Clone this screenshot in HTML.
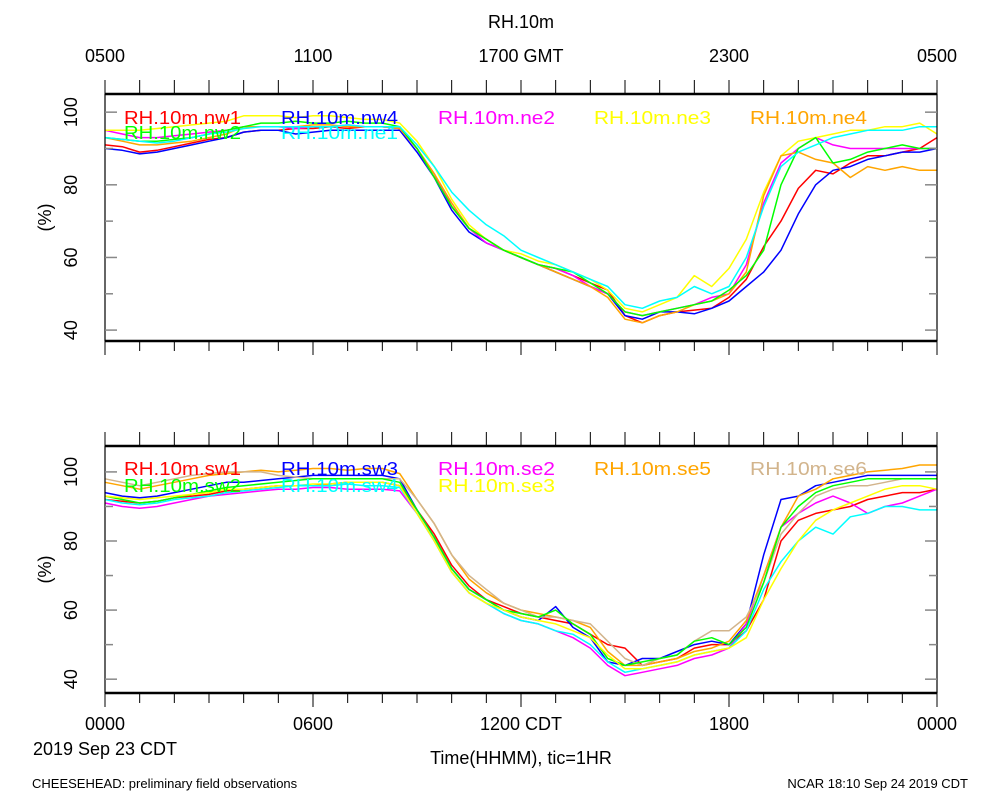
<!DOCTYPE html>
<html><head><meta charset="utf-8"><style>
html,body{margin:0;padding:0;background:#fff;}
svg text{font-family:"Liberation Sans",sans-serif;}
</style></head><body>
<svg id="chart" width="1000" height="800" viewBox="0 0 1000 800" xmlns="http://www.w3.org/2000/svg">
<rect x="0" y="0" width="1000" height="800" fill="#fff"/>
<g id="top"></g>
<g id="bot"></g>
<text x="521" y="28" font-size="18" text-anchor="middle">RH.10m</text>
<text x="521" y="764" font-size="18" text-anchor="middle">Time(HHMM), tic=1HR</text>
<text x="105" y="755" font-size="18" text-anchor="middle">2019 Sep 23 CDT</text>
<text x="32" y="788" font-size="13">CHEESEHEAD: preliminary field observations</text>
<text x="968" y="788" font-size="13" text-anchor="end">NCAR 18:10 Sep 24 2019 CDT</text>
</svg>
<script>
// times: 0..24 h step 0.5 (CDT)
const hours = Array.from({length:49},(_, i)=>i*0.5);
const topNames = ["RH.10m.nw1","RH.10m.nw4","RH.10m.ne2","RH.10m.ne3","RH.10m.ne4","RH.10m.nw2","RH.10m.ne1"];
const nw1 = [91,90.5,89,89.5,90.5,91.5,92.5,93,94.5,95,95,95.5,95.5,96,95.5,96,96,95.5,90,83,74,68,65,62,60,58,57,55,53,51,44,42,44,45,45.5,46,49,54,63,70,79,84,83,86,88,88,89,90,93];
const nw4 = [90,89.5,88.5,89,90,91,92,93,94.5,95,95,94,94.5,95,95,95,95,95,89,82,73,67,64,62,60,58,56,54,52,50,44,43,45,45,44.5,46,48,52,56,62,72,80,84,85,87,88,89,89,90];
const ne2 = [95,94,93,93,93.5,94,94.5,95,96,96,96,95.5,96,96,96.5,96,96,95.5,90,82,75,68,64,62,60,58,57,55,52,50,45,44,45,46,47,49,50,58,75,86,90,93,91,90,90,90,90,90,90];
const ne3 = [95,95,95,95.5,96,96.5,97,97.5,99,99,99,98.5,99,99,98.5,98,98,97,92,85,76,69,65,62,61,59,58,56,54,51,46,45,47,49,55,52,57,65,78,88,92,93,94,95,95,96,96,97,94];
const ne4 = [93,92,91,91,91.5,92,93,94,96,96,96,96,96.5,96.5,96,96,96,95.5,90,83,75,68,65,62,60,58,56,54,52,49,43,42,44,45,47,48,50,56,77,88,89,87,86,82,85,84,85,84,84];
const nw2 = [93,92.5,92,92,92.5,93,94,95,96,97,97,97.5,97,97,97.5,97,97,96,90,82,74,68,65,62,60,58,57,56,53,50,45,44,45,46,47,48,51,55,62,80,90,93,86,87,89,90,91,90,90];
const ne1 = [93,92.5,92,91.5,92,93,94,94.5,95.5,96,96,96,96,96,96.5,96,96,96,91,85,78,73,69,66,62,60,58,56,54,52,47,46,48,49,52,50,52,60,74,85,89,91,93,94,95,95,95,96,96];
const topSeries = [nw1,nw4,ne2,ne3,ne4,nw2,ne1];
const topColors = ["#ff0000","#0000ff","#ff00ff","#ffff00","#ffa500","#00ff00","#00ffff"];

const botNames = ["RH.10m.sw1","RH.10m.sw3","RH.10m.se2","RH.10m.se5","RH.10m.se6","RH.10m.sw2","RH.10m.sw4","RH.10m.se3"];
const sw1 = [92,91.5,91,91.5,92.5,93,93.5,94.5,95,95.5,96,96,96,96.5,97,97,97,96,89,82,73,67,63,61,59,58,57,56,53,50,49,44,45,46,49,50,50,54,63,80,86,88,89,90,92,93,94,94,95];
const sw3 = [94,93,92.5,93,94,95,96,97,97,97.5,98,98.5,99,99,99,99,99,98,89,81,72,66,63,60,58,57,61,55,52,45,44,46,46,48,50,51,50,56,76,92,93,96,97,98,99,99,99,99,99];
const se2 = [91,90,89.5,90,91,92,93,93.5,94,94.5,95,95,95.5,95.5,95,95,95,94.5,88,80,71,65,62,59,57,56,54,52,49,44,41,42,43,44,46,47,49,56,70,84,88,91,93,91,88,90,91,93,95];
const se5 = [97,96,95,96,97,98,99,99.5,100,100.5,100,100.5,101,101,100.5,101,101,99.5,92,85,76,69,65,62,60,59,58,57,55,48,44,44,45,46,48,49,51,57,70,84,93,95,98,99,100,100.5,101,102,102];
const se6 = [98,97,96,97,98,99,99.5,100,100,100,99,98.5,98,98,98,98,98,98,92,85,76,70,66,62,60,58,58,57,56,51,46,44,46,47,51,54,54,58,68,82,88,93,95,96,96,97,98,98,98];
const sw2 = [93,92,91,91.5,92.5,93.5,94.5,95.5,96,96.5,97,97.5,98,98,98,98,98,97,89,81,72,66,63,60,59,58,60,56,53,46,44,45,46,47,51,52,50,55,68,84,90,94,96,97,98,98,98,98,98];
const sw4 = [92,91,90.5,91,92,92.5,93,94,94.5,95,95.5,96,96,96,96.5,96,96,95.5,88,80,71,65,62,59,57,56,54,53,50,45,42,43,44,45,47,48,49,54,66,74,80,84,82,87,88,90,90,89,89];
const se3 = [93,92.5,92,92.5,93,93.5,94,95,95,95.5,96,96,96.5,96.5,97,97,97,96,88,80,71,65,62,60,58,57,56,54,52,47,43,43,44,45,47,48,49,52,63,72,80,86,89,91,93,95,96,96,95];
const botSeries = [sw1,sw3,se2,se5,se6,sw2,sw4,se3];
const botColors = ["#ff0000","#0000ff","#ff00ff","#ffa500","#d2b48c","#00ff00","#00ffff","#ffff00"];

const topTickLabels = ["0500","1100","1700 GMT","2300","0500"];
const botTickLabels = ["0000","0600","1200 CDT","1800","0000"];
const yTickLabels = [40,60,80,100];

const NS="http://www.w3.org/2000/svg";
const X0=105, X1=937;
const xScale = h => X0 + (X1-X0)*h/24;
function mk(tag, attrs, parent){const e=document.createElementNS(NS,tag);for(const k in attrs)e.setAttribute(k,attrs[k]);parent.appendChild(e);return e;}

function panel(g, top, bottom, vmin, vmax, series, colors, names, legendPos, tickLabels, labelsAbove){
  const yScale = v => bottom - (v-vmin)/(vmax-vmin)*(bottom-top);
  // series
  series.forEach((s,i)=>{
    const d = s.map((v,j)=>(j?"L":"M")+xScale(hours[j]).toFixed(1)+","+yScale(v).toFixed(1)).join("");
    const p = mk("path",{d:d,fill:"none",stroke:colors[i],"stroke-width":1.5,"stroke-linejoin":"round"},g);
    
    
  });
  // frame
  const f1 = mk("line",{x1:X0,y1:top,x2:X1,y2:top,stroke:"#000","stroke-width":2.5},g);
  
  
  const f2 = mk("line",{x1:X0,y1:bottom,x2:X1,y2:bottom,stroke:"#000","stroke-width":2.5},g);
  
  
  const f3 = mk("line",{x1:X0,y1:top,x2:X0,y2:bottom,stroke:"#000","stroke-width":1.2},g);
  
  
  const f4 = mk("line",{x1:X1,y1:top,x2:X1,y2:bottom,stroke:"#000","stroke-width":1.2},g);
  
  
  // x ticks hourly
  for(let h=0;h<=24;h++){
    const x=xScale(h);
    const t1 = mk("line",{x1:x,y1:top-14,x2:x,y2:top,stroke:"#000","stroke-width":1},g);
    
    
    const big = h%6===0;
    const t2 = mk("line",{x1:x,y1:bottom,x2:x,y2:bottom+(big?14:10),stroke:"#000","stroke-width":1},g);
    
    
  }
  tickLabels.forEach((l,i)=>{
    const y = labelsAbove ? top-32 : bottom+37;
    const t = mk("text",{x:xScale(i*6),y:y,"font-size":18,"text-anchor":"middle"},g);
    t.textContent=l;
    
    
  });
  // y ticks
  for(let v=40; v<=100; v+=10){
    const y=yScale(v), len = v%20===0?12:8;
    const a = mk("line",{x1:X0,y1:y,x2:X0+len,y2:y,stroke:"#888","stroke-width":1.5},g);
    
    
    const b = mk("line",{x1:X1-len,y1:y,x2:X1,y2:y,stroke:"#888","stroke-width":1.5},g);
    
    
  }
  yTickLabels.forEach(v=>{
    const y=yScale(v);
    const t = mk("text",{x:0,y:0,"font-size":18,"text-anchor":"middle",transform:`translate(77,${y}) rotate(-90)`},g);
    t.textContent=v;
    
    
  });
  const yt = mk("text",{x:0,y:0,"font-size":18,"text-anchor":"middle",transform:`translate(51,${(top+bottom)/2}) rotate(-90)`},g);
  yt.textContent="(%)";
  
  
  // legend
  names.forEach((n,i)=>{
    const p=legendPos[i];
    const t = mk("text",{x:p[0],y:p[1],"font-size":18,fill:colors[i],textLength:117,lengthAdjust:"spacingAndGlyphs"},g);
    t.textContent=n;
    
    
  });
}
panel(document.getElementById("top"),94,341,37,105,topSeries,topColors,topNames,
  [[124,124],[281,124],[438,124],[594,124],[750,124],[124,139],[281,139]],topTickLabels,true);
panel(document.getElementById("bot"),446,693,36,107.5,botSeries,botColors,botNames,
  [[124,475],[281,475],[438,475],[594,475],[750,475],[124,492],[281,492],[438,492]],botTickLabels,false);
</script>
</body></html>
